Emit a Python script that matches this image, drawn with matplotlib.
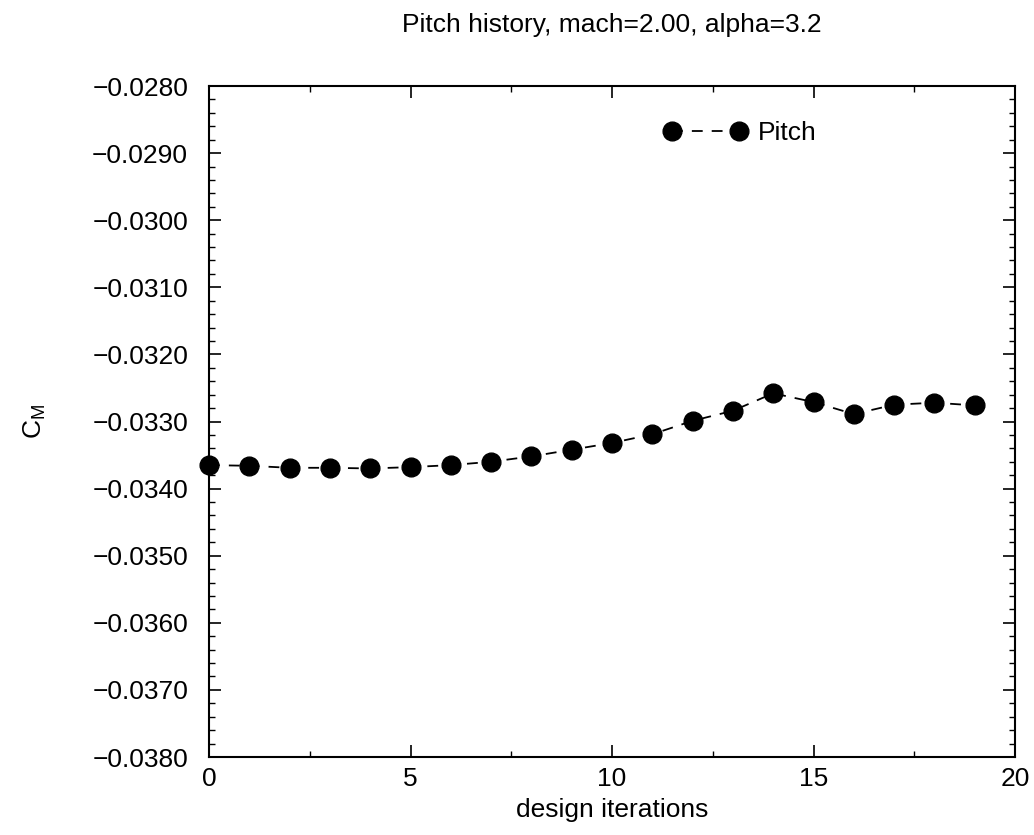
import matplotlib
matplotlib.use("Agg")
import matplotlib.pyplot as plt
from matplotlib.ticker import MultipleLocator, FuncFormatter

plt.rcParams['font.family'] = ['Liberation Sans', 'DejaVu Sans']
plt.rcParams['mathtext.fontset'] = 'custom'
plt.rcParams['mathtext.rm'] = 'Liberation Sans'

iterations = list(range(20))
pitch = [-0.03365, -0.03366, -0.03369, -0.03369, -0.03370, -0.03368, -0.03365,
         -0.03360, -0.03352, -0.03342, -0.03332, -0.03319, -0.03299, -0.03284,
         -0.03258, -0.03271, -0.03289, -0.03275, -0.03272, -0.03276]

FS = 19
W, H = 1034, 835
fig = plt.figure(figsize=(W / 100, H / 100), dpi=100)
ax = fig.add_axes([209 / W, 1 - 757 / H, (1015 - 209) / W, (757 - 86) / H])

ax.plot(iterations, pitch, color='black', linestyle=(0, (6, 5)), linewidth=1.3,
        marker='o', markersize=13.5, markerfacecolor='black', markeredgecolor='black',
        clip_on=False, label='Pitch')

ax.set_xlim(0, 20)
ax.set_ylim(-0.038, -0.028)
ax.xaxis.set_major_locator(MultipleLocator(5))
ax.xaxis.set_minor_locator(MultipleLocator(2.5))
ax.yaxis.set_major_locator(MultipleLocator(0.001))
ax.yaxis.set_minor_locator(MultipleLocator(0.0002))
ax.yaxis.set_major_formatter(FuncFormatter(lambda v, p: f"{v:.4f}".replace('-', '\u2212')))
ax.tick_params(which='both', direction='in', top=True, right=True, labelsize=FS)
ax.tick_params(axis='x', which='major', pad=7)
ax.tick_params(axis='y', which='major', pad=15)
ax.tick_params(which='major', length=8.5, width=1.2)
ax.tick_params(which='minor', length=4.3, width=1.0)
for s in ax.spines.values():
    s.set_linewidth(1.5)

ax.set_xlabel('design iterations', fontsize=FS, labelpad=5)
ax.set_ylabel(r'C$_\mathregular{M}$', fontsize=FS, labelpad=32)
ax.set_title('Pitch history, mach=2.00, alpha=3.2', fontsize=FS, pad=39)

ax.legend(loc='center left', bbox_to_anchor=(664 / W, 1 - 133 / H),
          bbox_transform=fig.transFigure, frameon=False, fontsize=FS,
          borderpad=0, borderaxespad=0, handlelength=3.15, handletextpad=0.42,
          numpoints=2)

fig.savefig('out.png', dpi=100)
